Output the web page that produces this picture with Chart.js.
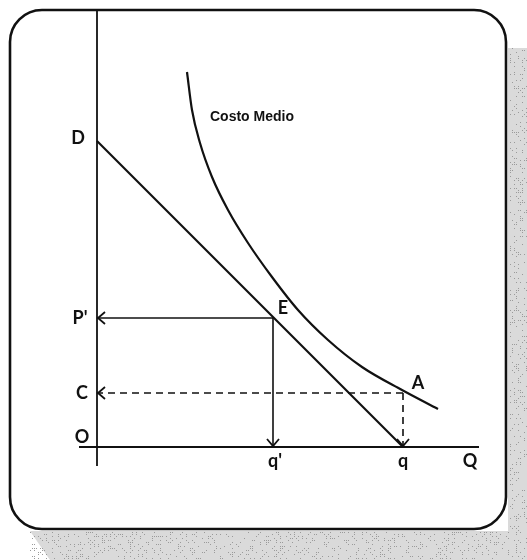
<!DOCTYPE html>
<html lang="es">
<head>
<meta charset="utf-8">
<title>Costo Medio</title>
<script src="https://cdn.jsdelivr.net/npm/chart.js@4/dist/chart.umd.min.js"></script>
<style>
    html, body { margin: 0; padding: 0; background: #FFFFFF; }
    #chart { display: block; }
</style>
</head>
<body>
<canvas id="chart" width="527" height="560"></canvas>
<script>
// Values (1 unit = 10 px of the original)
const demandX = [0, 30.6];
const demandY = [30.6, 0];

const costX = [9.0, 9.5, 10.3, 11.5, 13.1, 15.1, 17.5, 20.1, 23.1, 26.5, 30.5, 34.1];
const costY = [37.5, 33.7, 30.4, 27.0, 23.7, 20.4, 17.0, 13.7, 10.7, 8.0, 5.7, 3.8];

// E = equilibrium, A = point on the cost curve
const pointE = [17.6, 12.9];
const pointA = [30.6, 5.4];

// Axis extents
const axisXRange = [-1.8, 38.2];
const axisYRange = [-1.9, 43.7];

// Text labels: [text, x, y]
const labels = [
    ['D', -1.9, 30.9],
    ["P'", -1.7, 12.9],
    ['C', -1.5, 5.4],
    ['O', -1.5, 1.0],
    ['E', 18.6, 13.9],
    ['A', 32.1, 6.4],
    ["q'", 17.8, -1.4],
    ['q', 30.6, -1.4],
    ['Q', 37.3, -1.4],
];
const curveLabel = ['Costo Medio', 11.3, 33.0];

const INK = '#111111';

const toPts = (xs, ys) => xs.map((x, i) => ({ x, y: ys[i] }));

/**
 * Page frame: white card with rounded border and the grey scan shadow
 */
const framePlugin = {
    id: 'frame',
    beforeDraw(chart) {
        const { ctx, width, height } = chart;
        ctx.save();
        ctx.fillStyle = '#FFFFFF';
        ctx.fillRect(0, 0, width, height);

        // speckled shadow on right and bottom
        ctx.fillStyle = '#DADADA';
        ctx.beginPath();
        ctx.moveTo(508, 48);
        ctx.lineTo(width, 48);
        ctx.lineTo(width, height);
        ctx.lineTo(50, height);
        ctx.lineTo(30, 531);
        ctx.lineTo(508, 531);
        ctx.closePath();
        ctx.fill();
        ctx.fillStyle = '#9A9A9A';
        for (let y = 48; y < height; y += 2) {
            for (let x = 30; x < width; x += 2) {
                const h = (x * 73856093 ^ y * 19349663) >>> 0;
                if (h % 5 === 0 && (x > 508 || y > 531)) ctx.fillRect(x, y, 1, 1);
            }
        }

        // rounded card
        const l = 10, t = 10, r = 506, b = 529, rad = 32;
        ctx.fillStyle = '#FFFFFF';
        ctx.strokeStyle = INK;
        ctx.lineWidth = 2.6;
        ctx.beginPath();
        ctx.roundRect(l, t, r - l, b - t, rad);
        ctx.fill();
        ctx.stroke();
        ctx.restore();
    }
};

/**
 * Arrow heads and text labels
 */
const annotatePlugin = {
    id: 'annotate',
    afterDatasetsDraw(chart) {
        const { ctx, scales: { x, y } } = chart;
        const px = v => x.getPixelForValue(v);
        const py = v => y.getPixelForValue(v);

        const chevron = (tx, ty, dir) => {
            const L = 8, W = 6;
            ctx.beginPath();
            if (dir === 'left') {
                ctx.moveTo(tx + L, ty - W);
                ctx.lineTo(tx + 1, ty);
                ctx.lineTo(tx + L, ty + W);
            } else {
                ctx.moveTo(tx - W, ty - L);
                ctx.lineTo(tx, ty - 1);
                ctx.lineTo(tx + W, ty - L);
            }
            ctx.stroke();
        };

        ctx.save();
        ctx.strokeStyle = INK;
        ctx.lineWidth = 1.8;
        chevron(px(0), py(pointE[1]), 'left');
        chevron(px(0), py(pointA[1]), 'left');
        chevron(px(pointE[0]), py(0), 'down');
        chevron(px(pointA[0]), py(0), 'down');

        ctx.fillStyle = INK;
        ctx.textAlign = 'center';
        ctx.textBaseline = 'middle';
        ctx.font = 'bold 18px Lato, "DejaVu Sans", sans-serif';
        labels.forEach(([text, lx, ly]) => ctx.fillText(text, px(lx), py(ly)));

        ctx.textAlign = 'left';
        ctx.font = 'bold 14px "Liberation Sans", Arial, sans-serif';
        ctx.fillText(curveLabel[0], px(curveLabel[1]), py(curveLabel[2]));
        ctx.restore();
    }
};

const line = (data, extra = {}) => ({
    data,
    showLine: true,
    borderColor: INK,
    borderWidth: 1.8,
    pointRadius: 0,
    fill: false,
    ...extra
});

new Chart(document.getElementById('chart'), {
    type: 'scatter',
    data: {
        datasets: [
            // axes
            line([{ x: 0, y: axisYRange[0] }, { x: 0, y: axisYRange[1] }]),
            line([{ x: axisXRange[0], y: 0 }, { x: axisXRange[1], y: 0 }]),
            // demand
            line(toPts(demandX, demandY), { borderWidth: 2.2 }),
            // average cost curve
            line(toPts(costX, costY), { borderWidth: 2.2, cubicInterpolationMode: 'monotone' }),
            // E projections
            line([{ x: pointE[0], y: pointE[1] }, { x: 0, y: pointE[1] }], { borderWidth: 1.6 }),
            line([{ x: pointE[0], y: pointE[1] }, { x: pointE[0], y: 0 }], { borderWidth: 1.6 }),
            // A projections (dashed)
            line([{ x: pointA[0], y: pointA[1] }, { x: 0, y: pointA[1] }], { borderWidth: 1.6, borderDash: [7, 5] }),
            line([{ x: pointA[0], y: pointA[1] }, { x: pointA[0], y: 0 }], { borderWidth: 1.6, borderDash: [7, 5] }),
        ]
    },
    options: {
        responsive: false,
        animation: false,
        layout: { padding: 0 },
        plugins: {
            legend: { display: false },
            tooltip: { enabled: false }
        },
        scales: {
            x: { type: 'linear', min: -9.7, max: 43.0, display: false },
            y: { type: 'linear', min: -11.3, max: 44.7, display: false }
        }
    },
    plugins: [framePlugin, annotatePlugin]
});
</script>
</body>
</html>
